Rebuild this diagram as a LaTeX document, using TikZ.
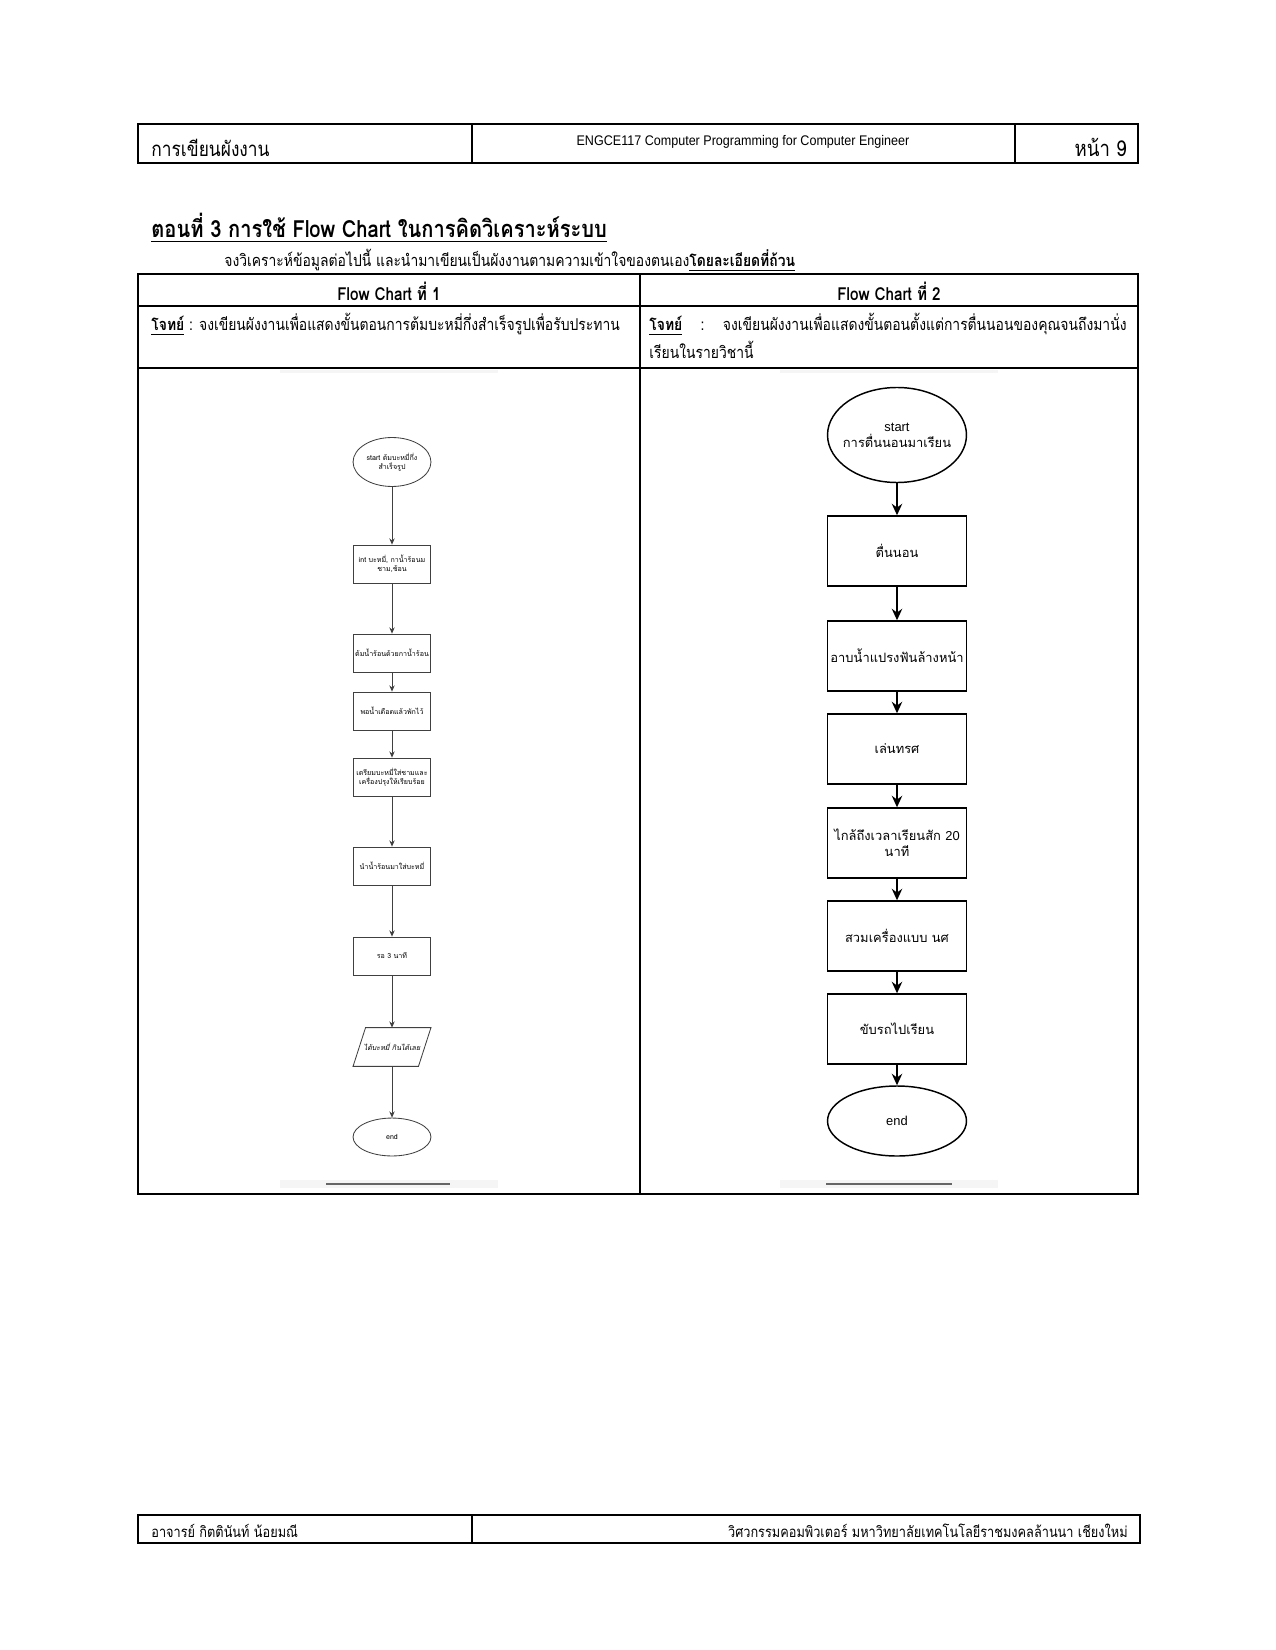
\documentclass[tikz,border=0pt]{standalone}
\usepackage{fontspec}
\usetikzlibrary{shapes.geometric,arrows.meta,calc}
\newfontfamily\thn[Script=Thai,FakeStretch=0.85]{Loma}
\newfontfamily\thf[Script=Thai]{Loma}
\newfontfamily\thsl[Script=Thai,FakeSlant=0.2]{Loma}
\newfontfamily\arialf{Liberation Sans}
\newfontfamily\narrowsans[FakeStretch=0.9]{Liberation Sans}
\begin{document}
\begin{tikzpicture}[x=0.48pt,y=-0.48pt,
  frame/.style={line width=1.1pt},
  txt/.style={inner sep=0pt,font=\thn\fontsize{7.85}{9}\selectfont},
  lbox/.style={draw=black!75,line width=0.4pt,minimum width=37pt,minimum height=18.2pt,inner sep=0pt,align=center,font=\thf\fontsize{3.4}{4.2}\selectfont},
  lell/.style={lbox,ellipse,minimum width=37.4pt,minimum height=23.5pt},
  lpara/.style={lbox,draw=none},
  larrow/.style={draw=black!75,line width=0.4pt,-{Stealth[length=3pt,width=2.6pt]}},
  rbox/.style={draw=black,line width=0.7pt,minimum width=66.7pt,minimum height=33.6pt,inner sep=0pt,align=center,font=\thf\fontsize{6.2}{7.6}\selectfont},
  rell/.style={rbox,ellipse,minimum height=45.6pt},
  rlabel/.style={inner sep=0pt,align=center,font=\thf\fontsize{6.2}{7.6}\selectfont},
  rarrow/.style={draw=black,line width=0.8pt,-{Stealth[length=5.5pt,width=5pt]}},
  faint/.style={fill=black!4},
  edgeline/.style={draw=black!60,line width=0.5pt}]
\useasboundingbox[fill=white] (0,0) rectangle (1275,1650);

% header
\draw[frame] (138,124) rectangle (1138,163);
\draw[frame] (472,124) -- (472,163);
\draw[frame] (1015,124) -- (1015,163);
\node[txt,anchor=base west,font=\thn\fontsize{9.8}{12}\selectfont] (h1) at (151,157) {การเขียนผังงาน};
\node[txt,anchor=base,font=\narrowsans\fontsize{6.7}{8}\selectfont] (h2) at (743,146) {ENGCE117 Computer Programming for Computer Engineer};
\node[txt,anchor=base east,font=\thn\fontsize{10.5}{12}\selectfont] (h3) at (1127,157) {หน้า 9};

% title
\node[txt,anchor=base west,font=\thn\bfseries\fontsize{11.35}{13}\selectfont] (title) at (151,238) {\underline{ตอนที่ 3 การใช้ Flow Chart ในการคิดวิเคราะห์ระบบ}};
\node[txt,anchor=base west] (sub) at (224,267) {จงวิเคราะห์ข้อมูลต่อไปนี้ และนำมาเขียนเป็นผังงานตามความเข้าใจของตนเอง{\bfseries\underline{โดยละเอียดที่ถ้วน}}};

% table
\draw[frame] (138,274) rectangle (1138,1194);
\draw[frame] (640,274) -- (640,1194);
\draw[frame] (138,306) -- (1138,306);
\draw[frame] (138,368) -- (1138,368);
\node[txt,anchor=base,font=\thn\bfseries\fontsize{8.6}{9}\selectfont] (c1) at (389,301) {Flow Chart ที่ 1};
\node[txt,anchor=base,font=\thn\bfseries\fontsize{8.6}{9}\selectfont] (c2) at (889,301) {Flow Chart ที่ 2};
\node[txt,anchor=base west] (p1) at (151,331) {{\bfseries\underline{โจทย์}} : จงเขียนผังงานเพื่อแสดงขั้นตอนการต้มบะหมี่กึ่งสำเร็จรูปเพื่อรับประทาน};
\node[txt,anchor=base west] (p2) at (649,331) {\hbox to 229pt{{\bfseries\underline{โจทย์}}\hfil:\hfil จงเขียนผังงานเพื่อแสดงขั้นตอนตั้งแต่การตื่นนอนของคุณจนถึงมานั่ง}};
\node[txt,anchor=base west] (p2b) at (649,359) {เรียนในรายวิชานี้};

% faint image edges
\fill[faint] (280,370) rectangle (498,373);
\fill[faint] (780,370) rectangle (998,373);
\fill[faint] (280,1180) rectangle (498,1188);
\fill[faint] (780,1180) rectangle (998,1188);
\draw[edgeline] (326,1184) -- (450,1184);
\draw[edgeline] (826,1184) -- (952,1184);

% left flowchart
\node[lell] (s1) at (392,462) {start ต้มบะหมี่กึ่ง\\สำเร็จรูป};
\node[lbox] (a1) at (392,564) {int บะหมี่, กาน้ำร้อนม\\ชาม,ช้อน};
\node[lbox] (a2) at (392,653) {ต้มน้ำร้อนด้วยกาน้ำร้อน};
\node[lbox] (a3) at (392,711) {พอน้ำเดือดแล้วพักไว้};
\node[lbox] (a4) at (392,777) {เตรียมบะหมี่ใส่ชามและ\\เครื่องปรุงให้เรียบร้อย};
\node[lbox] (a5) at (392,866) {นำน้ำร้อนมาใส่บะหมี่};
\node[lbox] (a6) at (392,956) {รอ 3 นาที};
\node[lpara,font=\thsl\fontsize{3.4}{4.2}\selectfont] (a7) at (392,1047) {ได้บะหมี่ กินได้เลย};
\draw[draw=black!75,line width=0.4pt] ([xshift=6pt]a7.north west) -- (a7.north east) -- ([xshift=-6pt]a7.south east) -- (a7.south west) -- cycle;
\node[lell,minimum height=18.2pt] (e1) at (392,1137) {end};
\draw[larrow] (s1) -- (a1);
\draw[larrow] (a1) -- (a2);
\draw[larrow] (a2) -- (a3);
\draw[larrow] (a3) -- (a4);
\draw[larrow] (a4) -- (a5);
\draw[larrow] (a5) -- (a6);
\draw[larrow] (a6) -- (a7);
\draw[larrow] (a7) -- (e1);

% right flowchart
\node[rell] (s2) at (897,435) {};
\node[rlabel] (s2t) at (s2.center) {{\arialf start}\\การตื่นนอนมาเรียน};
\node[rbox] (b1) at (897,551) {ตื่นนอน};
\node[rbox] (b2) at (897,656) {อาบน้ำแปรงฟันล้างหน้า};
\node[rbox] (b3) at (897,749) {เล่นทรศ};
\node[rbox] (b4) at (897,843) {ไกล้ถึงเวลาเรียนสัก {\arialf 20}\\นาที};
\node[rbox] (b5) at (897,936) {สวมเครื่องแบบ นศ};
\node[rbox] (b6) at (897,1029) {ขับรถไปเรียน};
\node[rell,minimum height=33.6pt] (e2) at (897,1121) {{\arialf end}};
\draw[rarrow] (s2) -- (b1);
\draw[rarrow] (b1) -- (b2);
\draw[rarrow] (b2) -- (b3);
\draw[rarrow] (b3) -- (b4);
\draw[rarrow] (b4) -- (b5);
\draw[rarrow] (b5) -- (b6);
\draw[rarrow] (b6) -- (e2);

% footer
\draw[frame] (138,1515) rectangle (1140,1543);
\draw[frame] (472,1515) -- (472,1543);
\node[txt,anchor=base west,font=\thn\fontsize{7.2}{9}\selectfont] (f1) at (151,1537) {อาจารย์ กิตตินันท์ น้อยมณี};
\node[txt,anchor=base east,font=\thn\fontsize{7.2}{9}\selectfont] (f2) at (1128,1537) {วิศวกรรมคอมพิวเตอร์ มหาวิทยาลัยเทคโนโลยีราชมงคลล้านนา เชียงใหม่};
\end{tikzpicture}
\end{document}
